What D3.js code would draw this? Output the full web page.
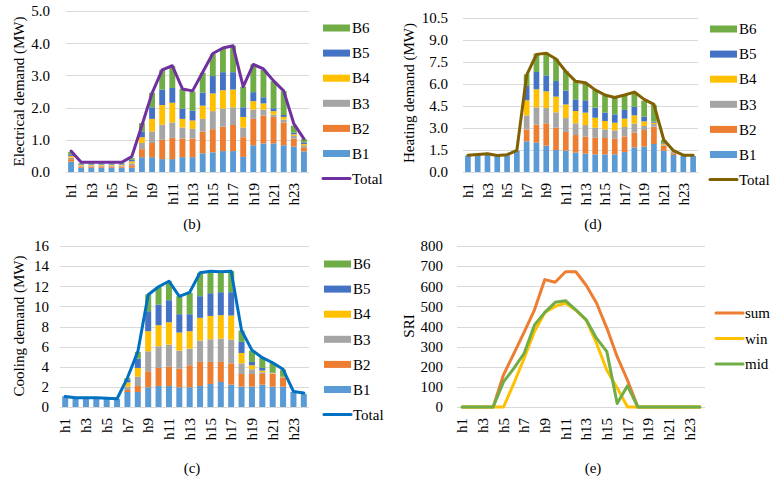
<!DOCTYPE html>
<html><head><meta charset="utf-8">
<script src="https://cdn.jsdelivr.net/npm/d3@7"></script>
<style>body{margin:0;background:#fff}svg{display:block;font-family:"Liberation Serif","Times New Roman",serif}</style>
</head><body><svg id="chart" width="780" height="481"></svg>
<script>
const hours = ["h1","h2","h3","h4","h5","h6","h7","h8","h9","h10","h11","h12","h13","h14","h15","h16","h17","h18","h19","h20","h21","h22","h23","h24"];
const hourTicks = ["h1","h3","h5","h7","h9","h11","h13","h15","h17","h19","h21","h23"];
const buildings = ["B1","B2","B3","B4","B5","B6"];
const sriSeries = ["sum","win","mid"];

// (b) Electrical demand (MW)
const elecB1 = [0.32,0.13,0.13,0.13,0.13,0.13,0.13,0.46,0.46,0.40,0.40,0.46,0.46,0.58,0.61,0.65,0.65,0.47,0.83,0.89,0.89,0.83,0.79,0.64];
const elecB2 = [0.08,0.04,0.04,0.04,0.04,0.04,0.08,0.25,0.44,0.60,0.66,0.58,0.58,0.67,0.72,0.76,0.81,0.61,0.82,0.86,0.82,0.71,0.25,0.13];
const elecB3 = [0.05,0.03,0.03,0.03,0.03,0.03,0.06,0.19,0.36,0.47,0.48,0.34,0.30,0.40,0.56,0.56,0.55,0.30,0.29,0.19,0.07,0.09,0.08,0.06];
const elecB4 = [0.05,0.02,0.02,0.02,0.02,0.02,0.06,0.18,0.39,0.61,0.61,0.27,0.26,0.41,0.55,0.57,0.55,0.33,0.26,0.19,0.11,0.08,0.05,0.04];
const elecB5 = [0.05,0.02,0.02,0.02,0.02,0.02,0.05,0.18,0.36,0.48,0.46,0.31,0.30,0.40,0.54,0.56,0.54,0.30,0.28,0.19,0.09,0.06,0.05,0.05];
const elecB6 = [0.07,0.03,0.03,0.03,0.03,0.03,0.05,0.26,0.45,0.61,0.68,0.62,0.60,0.62,0.68,0.73,0.82,0.64,0.86,0.85,0.84,0.74,0.22,0.10];
const elecTotal = [0.65,0.30,0.30,0.30,0.30,0.30,0.48,1.45,2.45,3.17,3.30,2.58,2.52,3.10,3.68,3.85,3.92,2.65,3.34,3.20,2.83,2.52,1.50,1.03];

// (d) Heating demand (MW)
const heatB1 = [1.12,1.18,1.22,1.10,1.15,1.45,2.09,2.00,1.80,1.50,1.45,1.32,1.25,1.20,1.20,1.20,1.36,1.68,1.73,1.91,1.45,1.16,1.09,1.09];
const heatB2 = [0,0,0,0,0,0,0.81,1.23,1.52,1.52,1.28,1.20,1.16,1.14,1.12,1.07,1.05,1.00,1.13,1.18,0.35,0.11,0,0];
const heatB3 = [0,0,0,0,0,0,0.96,1.18,1.04,1.05,0.95,0.80,0.79,0.68,0.59,0.57,0.66,0.62,0.28,0.18,0.05,0.03,0,0];
const heatB4 = [0,0,0,0,0,0,1.03,1.23,1.14,1.07,0.93,0.84,0.85,0.68,0.57,0.52,0.57,0.56,0.31,0.09,0.05,0.03,0,0];
const heatB5 = [0,0,0,0,0,0,0.97,1.18,1.09,1.06,0.94,0.79,0.84,0.69,0.57,0.57,0.59,0.59,0.32,0.07,0.05,0.03,0,0];
const heatB6 = [0,0,0,0,0,0,0.80,1.25,1.55,1.53,1.34,1.23,1.20,1.20,1.20,1.16,1.07,1.00,1.09,1.14,0.23,0.04,0,0];
const heatTotal = [1.15,1.20,1.25,1.12,1.18,1.48,6.60,8.02,8.10,7.70,6.85,6.18,6.09,5.60,5.25,5.08,5.25,5.45,4.95,4.61,2.20,1.45,1.15,1.15];

// (c) Cooling demand (MW)
const coolB1 = [1.06,0.90,0.90,0.90,0.85,0.80,1.49,1.49,1.96,2.09,2.09,1.96,1.96,2.09,2.29,2.49,2.22,2.02,2.02,2.22,2.02,2.02,1.49,1.29];
const coolB2 = [0,0,0,0,0,0,0.20,0.60,1.59,1.79,1.92,1.85,2.19,2.39,2.19,1.99,2.12,1.26,1.26,1.06,1.26,0.93,0,0];
const coolB3 = [0,0,0,0,0,0,0.33,0.93,1.99,2.16,2.19,1.79,1.65,2.12,2.25,2.32,2.36,1.06,0.47,0.17,0.05,0.02,0,0];
const coolB4 = [0,0,0,0,0,0,0.43,0.86,1.99,2.09,2.22,1.80,1.73,2.26,2.32,2.32,2.39,1.03,0.40,0.17,0.05,0.02,0,0];
const coolB5 = [0,0,0,0,0,0,0.27,0.93,1.99,2.05,2.19,1.82,1.69,2.15,2.26,2.29,2.32,1.10,0.33,0.26,0.05,0.02,0,0];
const coolB6 = [0,0,0,0,0,0,0.16,0.66,1.66,1.76,1.89,1.79,2.12,2.32,2.19,2.02,2.09,1.13,1.12,1.00,0.95,0.70,0,0];
const coolTotal = [1.05,0.92,0.92,0.92,0.86,0.82,2.90,5.50,11.15,11.95,12.50,11.00,11.40,13.35,13.50,13.45,13.50,7.60,5.65,4.90,4.40,3.75,1.55,1.40];

// (e) SRI
const sriSum = [0,0,0,0,160,265,372,483,633,620,672,672,605,517,392,250,133,0,0,0,0,0,0,0];
const sriWin = [0,0,0,0,0,117,242,375,470,500,517,480,433,317,183,95,0,0,0,0,0,0,0,0];
const sriMid = [0,0,0,0,125,192,267,408,470,520,528,483,433,342,275,17,105,0,0,0,0,0,0,0];

const barColors = ["#5B9BD5","#ED7D31","#A5A5A5","#FFC000","#4472C4","#70AD47"];
const sriColors = ["#ED7D31","#FFC000","#70AD47"];
const FONT = 15;
const svg = d3.select("#chart");

function yAxisAndGrid(g, p, y, ticks) {
  g.selectAll("line.grid").data(ticks).join("line").attr("class","grid")
    .attr("x1", p.left).attr("x2", p.right)
    .attr("y1", d => Math.round(y(d)) + 0.5).attr("y2", d => Math.round(y(d)) + 0.5)
    .attr("stroke", "#D9D9D9").attr("stroke-width", 1);
  const ax = g.append("g").attr("transform", `translate(${p.tickEnd},0)`)
    .call(d3.axisLeft(y).tickValues(ticks).tickFormat(d3.format(p.fmt)).tickSize(0).tickPadding(0));
  ax.select(".domain").remove();
  ax.selectAll("text").attr("font-size", FONT).attr("font-family", "Liberation Serif").attr("fill", "#000");
  g.append("text").attr("transform", `translate(${p.ylabelX},${p.ylabelY}) rotate(-90)`)
    .attr("text-anchor", "middle").attr("font-size", FONT).attr("fill", "#000").text(p.ylabel);
  g.append("text").attr("x", p.titleX).attr("y", p.titleY).attr("text-anchor", "middle")
    .attr("font-size", FONT).attr("fill", "#000").text(p.title);
}

function xAxis(g, p, x) {
  const ax = g.append("g").attr("transform", `translate(0,${p.bottom})`)
    .call(d3.axisBottom(x).tickValues(hourTicks).tickSize(0));
  ax.select(".domain").remove();
  ax.selectAll("text").attr("font-size", FONT).attr("font-family", "Liberation Serif").attr("fill", "#000")
    .attr("transform", "rotate(-90)").attr("text-anchor", "end")
    .attr("x", -11).attr("y", 0).attr("dy", "0.35em");
}

function stackedPanel(p) {
  const g = svg.append("g");
  const x = d3.scaleBand().domain(hours).range([p.left, p.right]).paddingInner(0.42).paddingOuter(0.21);
  const y = d3.scaleLinear().domain([0, p.ymax]).range([p.bottom, p.top]);
  const ticks = d3.range(0, p.ymax + p.step / 2, p.step);
  yAxisAndGrid(g, p, y, ticks);
  const rows = hours.map((h, i) => {
    const r = { hour: h };
    buildings.forEach((b, k) => r[b] = p.series[k][i]);
    return r;
  });
  const stacked = d3.stack().keys(buildings)(rows);
  g.selectAll("g.layer").data(stacked).join("g").attr("class", "layer")
    .attr("fill", (d, k) => barColors[k])
    .selectAll("rect").data(d => d).join("rect")
    .attr("x", d => x(d.data.hour)).attr("width", x.bandwidth())
    .attr("y", d => y(d[1])).attr("height", d => Math.max(0, y(d[0]) - y(d[1])));
  xAxis(g, p, x);
  const line = d3.line().x((d, i) => x(hours[i]) + x.bandwidth() / 2).y(d => y(d));
  g.append("path").datum(p.total).attr("d", line).attr("fill", "none")
    .attr("stroke", p.totalColor).attr("stroke-width", 3).attr("stroke-linejoin", "round").attr("stroke-linecap", "round");
  // legend
  const names = buildings.slice().reverse();
  const lg = g.append("g");
  names.forEach((n, j) => {
    const cy = p.legendY0 + j * p.legendStep;
    lg.append("rect").attr("x", p.legendX).attr("y", cy - 3.5).attr("width", 27).attr("height", 7)
      .attr("fill", barColors[buildings.indexOf(n)]);
    lg.append("text").attr("x", p.legendX + 29).attr("y", cy).attr("dy", "0.35em")
      .attr("font-size", FONT).attr("fill", "#000").text(n);
  });
  const cy = p.legendY0 + 6 * p.legendStep;
  lg.append("line").attr("x1", p.legendX).attr("x2", p.legendX + 27).attr("y1", cy).attr("y2", cy)
    .attr("stroke", p.totalColor).attr("stroke-width", 3).attr("stroke-linecap", "round");
  lg.append("text").attr("x", p.legendX + 29).attr("y", cy).attr("dy", "0.35em")
    .attr("font-size", FONT).attr("fill", "#000").text("Total");
}

stackedPanel({ left: 66, right: 309, top: 11, bottom: 172, ymax: 5, step: 1, fmt: ".1f",
  tickEnd: 50, ylabel: "Electrical demand (MW)", ylabelX: 24, ylabelY: 91.5,
  title: "(b)", titleX: 192, titleY: 229,
  series: [elecB1, elecB2, elecB3, elecB4, elecB5, elecB6], total: elecTotal, totalColor: "#7030A0",
  legendX: 323, legendY0: 28, legendStep: 25.1 });

stackedPanel({ left: 463, right: 698, top: 18, bottom: 172, ymax: 10.5, step: 1.5, fmt: ".1f",
  tickEnd: 448, ylabel: "Heating demand (MW)", ylabelX: 414, ylabelY: 93,
  title: "(d)", titleX: 593, titleY: 229,
  series: [heatB1, heatB2, heatB3, heatB4, heatB5, heatB6], total: heatTotal, totalColor: "#806000",
  legendX: 710, legendY0: 29, legendStep: 25.1 });

stackedPanel({ left: 60, right: 309, top: 246, bottom: 407, ymax: 16, step: 2, fmt: "d",
  tickEnd: 49, ylabel: "Cooling demand (MW)", ylabelX: 24, ylabelY: 326,
  title: "(c)", titleX: 192, titleY: 473,
  series: [coolB1, coolB2, coolB3, coolB4, coolB5, coolB6], total: coolTotal, totalColor: "#0070C0",
  legendX: 324, legendY0: 264, legendStep: 25.1 });

// (e) SRI line chart
(function () {
  const p = { left: 457, right: 705, top: 246, bottom: 407, ymax: 800, step: 100, fmt: "d",
    tickEnd: 443, ylabel: "SRI", ylabelX: 414, ylabelY: 326, title: "(e)", titleX: 593, titleY: 473,
    legendX: 716, legendY0: 313, legendStep: 25.5 };
  const g = svg.append("g");
  const x = d3.scaleBand().domain(hours).range([p.left, p.right]).paddingInner(0.42).paddingOuter(0.21);
  const y = d3.scaleLinear().domain([0, p.ymax]).range([p.bottom, p.top]);
  const ticks = d3.range(0, p.ymax + p.step / 2, p.step);
  yAxisAndGrid(g, p, y, ticks);
  xAxis(g, p, x);
  const line = d3.line().x((d, i) => x(hours[i]) + x.bandwidth() / 2).y(d => y(d));
  [sriSum, sriWin, sriMid].forEach((s, k) => {
    g.append("path").datum(s).attr("d", line).attr("fill", "none").attr("stroke", sriColors[k])
      .attr("stroke-width", 3).attr("stroke-linejoin", "round").attr("stroke-linecap", "round");
  });
  sriSeries.forEach((n, j) => {
    const cy = p.legendY0 + j * p.legendStep;
    g.append("line").attr("x1", p.legendX).attr("x2", p.legendX + 27).attr("y1", cy).attr("y2", cy)
      .attr("stroke", sriColors[j]).attr("stroke-width", 3).attr("stroke-linecap", "round");
    g.append("text").attr("x", p.legendX + 29).attr("y", cy).attr("dy", "0.35em")
      .attr("font-size", FONT).attr("fill", "#000").text(n);
  });
})();
</script></body></html>
